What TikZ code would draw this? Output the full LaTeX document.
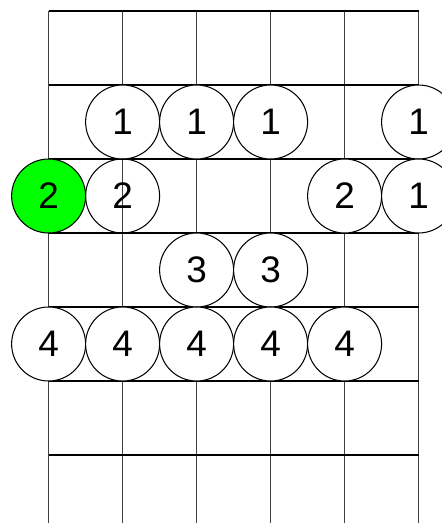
\documentclass[tikz,border=0pt]{standalone}
\usepackage{fontspec}
\setmainfont{Liberation Sans}
\definecolor{rootgreen}{RGB}{0,255,0}
\begin{document}
\begin{tikzpicture}[x=1cm,y=1cm,
  finger/.style={circle,draw,fill=white,line width=0.4pt,minimum size=1cm,inner sep=0pt,font=\fontsize{14.2}{14.2}\selectfont}]
  \useasboundingbox (-0.657,-6.919) rectangle (5.303,0.149);
  % strings and frets
  \foreach \s in {0,...,5}
    \draw[line width=0.4pt,black!75] (\s,0) -- (\s,-7.2);
  \foreach \f in {0,...,6}
    \draw[line width=0.4pt] (0,-\f) -- (5,-\f);
  % fret 1
  \node[finger] (f1s1) at (1,-1.5) {1};
  \node[finger] (f1s2) at (2,-1.5) {1};
  \node[finger] (f1s3) at (3,-1.5) {1};
  \node[finger] (f1s5) at (5,-1.5) {1};
  % fret 2
  \node[finger,fill=rootgreen] (f2s0) at (0,-2.5) {2};
  \node[finger,fill=none] (f2s1) at (1,-2.5) {2};
  \node[finger] (f2s4) at (4,-2.5) {2};
  \node[finger] (f2s5) at (5,-2.5) {1};
  % fret 3
  \node[finger] (f3s2) at (2,-3.5) {3};
  \node[finger] (f3s3) at (3,-3.5) {3};
  % fret 4
  \node[finger] (f4s0) at (0,-4.5) {4};
  \node[finger] (f4s1) at (1,-4.5) {4};
  \node[finger] (f4s2) at (2,-4.5) {4};
  \node[finger] (f4s3) at (3,-4.5) {4};
  \node[finger] (f4s4) at (4,-4.5) {4};
\end{tikzpicture}
\end{document}
